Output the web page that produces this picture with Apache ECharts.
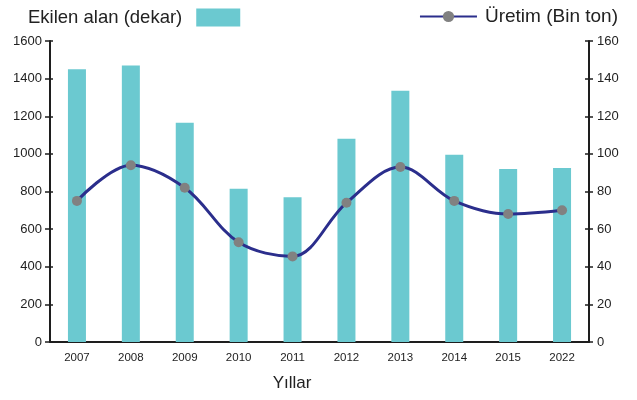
<!DOCTYPE html>
<html>
<head>
<meta charset="utf-8">
<script src="https://cdn.jsdelivr.net/npm/echarts@6/dist/echarts.min.js"></script>
<style>
  html, body { margin: 0; padding: 0; background: #fff; }
  #chart { width: 637px; height: 400px; }
</style>
</head>
<body>
<div id="chart"></div>
<script>
// Years on the category axis
const years = ['2007', '2008', '2009', '2010', '2011', '2012', '2013', '2014', '2015', '2022'];
// Cultivated area (decares), left axis
const ekilenAlan = [1450, 1470, 1165, 815, 770, 1080, 1335, 995, 920, 925];
// Production (thousand tons), right axis
const uretim = [75, 94, 82, 53, 45.5, 74, 93, 75, 68, 70];
// Axis tick ranges
const leftMax = 1600, leftStep = 200;
const rightMax = 160, rightStep = 20;

const axisColor = '#1e1e1e';
const font = 'Liberation Sans, Arial, Helvetica, sans-serif';

const chart = echarts.init(document.getElementById('chart'), null, { renderer: 'canvas' });

function yAxisBase(max, step, position) {
  return {
    type: 'value', min: 0, max: max, interval: step, position: position,
    splitLine: { show: false }
  };
}

const plain = v => String(v);

chart.setOption({
  animation: false,
  textStyle: { fontFamily: font },
  grid: { left: 50, right: 48, top: 41, bottom: 58 },
  legend: [
    {
      data: [{ name: 'Ekilen alan (dekar)', icon: 'rect' }],
      left: 23, top: 3,
      align: 'right',
      itemWidth: 44, itemHeight: 18,
      textStyle: { fontSize: 18.5, color: '#222', fontFamily: font, padding: [0, 9, 0, 0] }
    },
    {
      data: ['Üretim (Bin ton)'],
      right: 14, top: 2,
      align: 'left',
      itemWidth: 57, itemHeight: 14,
      textStyle: { fontSize: 19, color: '#222', fontFamily: font, padding: [0, 0, 0, 3] }
    }
  ],
  xAxis: {
    type: 'category',
    data: years,
    name: 'Yıllar',
    nameLocation: 'middle',
    nameGap: 33,
    nameTextStyle: { fontSize: 17, color: '#222', padding: [0, 55, 0, 0] },
    axisLine: { lineStyle: { color: axisColor, width: 2 } },
    axisTick: { alignWithLabel: true, length: 4, lineStyle: { color: axisColor, width: 1.5 } },
    axisLabel: { fontSize: 11.5, color: '#222', margin: 10 }
  },
  yAxis: [
    Object.assign(yAxisBase(leftMax, leftStep, 'left'), {
      axisLine: { show: true, lineStyle: { color: axisColor, width: 2 } },
      axisTick: { show: true, length: 5, lineStyle: { color: axisColor, width: 1.5 } },
      axisLabel: { fontSize: 13, color: '#222', margin: 8, formatter: plain }
    }),
    Object.assign(yAxisBase(rightMax, rightStep, 'right'), {
      axisLine: { show: true, lineStyle: { color: axisColor, width: 2 } },
      axisTick: { show: true, length: 4, lineStyle: { color: axisColor, width: 1.5 } },
      axisLabel: { fontSize: 13, color: '#222', margin: 8, formatter: plain }
    }),
    // inner halves of the crossing tick marks
    Object.assign(yAxisBase(leftMax, leftStep, 'left'), {
      axisLine: { show: false },
      axisTick: { show: true, inside: true, length: 3, lineStyle: { color: axisColor, width: 1.5 } },
      axisLabel: { show: false }
    }),
    Object.assign(yAxisBase(rightMax, rightStep, 'right'), {
      axisLine: { show: false },
      axisTick: { show: true, inside: true, length: 4, lineStyle: { color: axisColor, width: 1.5 } },
      axisLabel: { show: false }
    })
  ],
  series: [
    {
      name: 'Ekilen alan (dekar)',
      type: 'bar',
      yAxisIndex: 0,
      data: ekilenAlan,
      barWidth: 18,
      itemStyle: { color: '#6bc9d0' }
    },
    {
      name: 'Üretim (Bin ton)',
      type: 'line',
      yAxisIndex: 1,
      data: uretim,
      smooth: 0.35,
      symbol: 'circle',
      symbolSize: 10,
      lineStyle: { color: '#2b2e8c', width: 3 },
      itemStyle: { color: '#818181' },
      z: 3
    }
  ]
});
</script>
</body>
</html>
